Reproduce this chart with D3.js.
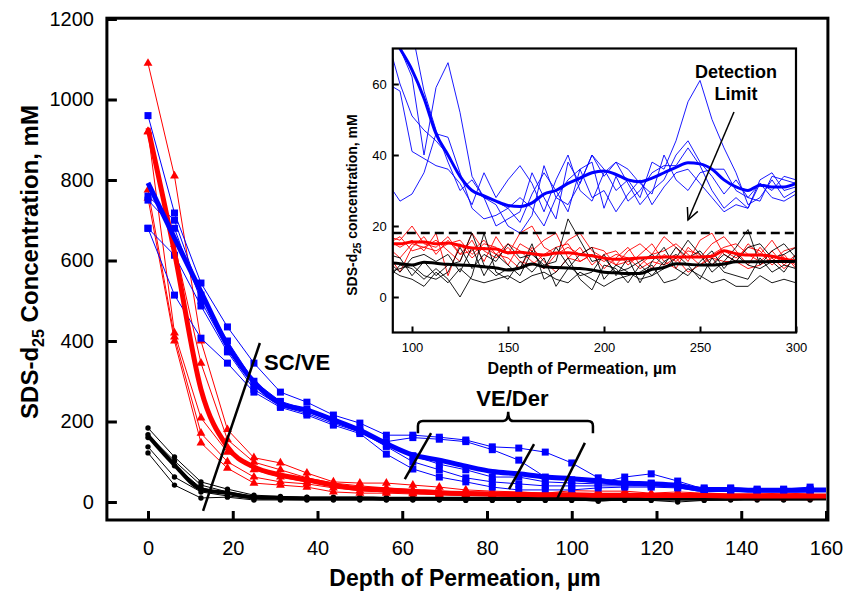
<!DOCTYPE html>
<html><head><meta charset="utf-8">
<script src="https://cdn.jsdelivr.net/npm/d3@7"></script>
<style>
body{margin:0;background:#fff}
svg{display:block}
text{font-family:"Liberation Sans",Arial,Helvetica,sans-serif;fill:#000}
</style>
</head><body><svg id="c" width="845" height="591"></svg>
<script>
// ---------------- MAIN PLOT DATA ----------------
const depth = [0,6.25,12.5,18.75,25,31.25,37.5,43.75,50,56.25,62.5,68.75,75,81.25,87.5,93.75,100,106.25,112.5,118.75,125,131.25,137.5,143.75,150,156.25];
const meanDepth = depth.concat([160]);
const xTicks = [0,20,40,60,80,100,120,140,160];
const yTicks = [0,200,400,600,800,1000,1200];

const blue1 = [960,718,544,435,345,273,248,216,196,166,166,161,154,137,134,124,97,60,47,45,42,35,35,32,32,37];
const blue2 = [760,700,514,400,300,250,230,205,180,150,160,156,150,130,104,62,55,47,62,70,52,32,33,30,30,32];
const blue3 = [750,680,500,378,290,241,225,200,176,142,115,94,80,62,62,50,47,45,42,47,40,30,30,28,28,30];
const blue4 = [680,613,487,373,280,238,220,195,174,138,100,80,60,50,45,40,40,40,40,40,37,27,28,26,26,27];
const blue5 = [680,514,407,345,273,235,216,191,170,119,82,62,50,37,30,30,30,35,37,37,35,25,27,25,25,25];
const blueMean = [793,656,522,390,298,245,228,204,178,145,117,104,89,76,70,62,58,53,47,45,41,31,31,29,29,30,30];

const red1 = [1090,810,400,180,110,97,72,50,47,47,42,37,30,27,25,22,28,27,27,22,25,22,20,20,22,20];
const red2 = [920,640,345,155,99,80,60,47,40,35,30,27,25,22,20,20,20,20,19,18,18,18,17,17,17,17];
const red3 = [920,420,209,124,80,62,50,42,35,30,25,22,20,18,18,17,17,16,16,16,15,15,15,15,15,15];
const red4 = [775,410,171,100,62,50,45,35,28,25,22,20,18,16,15,15,15,14,14,14,13,13,13,13,13,13];
const red5 = [755,400,147,84,47,42,37,25,22,22,20,18,16,15,14,13,13,12,12,12,12,11,11,11,11,11];
const redMean = [929,620,280,137,87,67,55,42,33,30,27,23,21,20,19,18,18,17,17,16,16,16,15,15,15,15,15];

const black1 = [184,112,50,32,17,14,12,12,12,11,11,10,10,10,10,11,10,10,10,12,10,10,12,11,12,12];
const black2 = [167,102,42,25,14,12,11,10,10,10,10,9,9,9,8,9,9,8,9,10,9,9,10,10,10,10];
const black3 = [160,90,35,20,12,10,9,9,8,8,8,8,8,8,7,8,8,7,8,8,8,8,8,9,9,9];
const black4 = [137,62,25,15,8,8,7,7,7,6,6,6,6,6,5,6,6,2,6,6,6,6,7,7,7,7];
const black5 = [122,42,10,12,5,5,5,5,5,5,5,5,4,4,4,4,4,4,4,4,0,4,5,5,5,5];
const blackMean = [165,92,32,22,12,10,9,9,9,8,8,8,8,8,8,8,8,7,8,8,8,8,8,9,9,9,9];

// ---------------- INSET DATA ----------------
const insetDepth = [87.5,93.75,100,106.25,112.5,118.75,125,131.25,137.5,143.75,150,156.25,162.5,168.75,175,181.25,187.5,193.75,200,206.25,212.5,218.75,225,231.25,237.5,243.75,250,256.25,262.5,268.75,275,281.25,287.5,293.75,300];
const insetXTicks = [100,150,200,250,300];
const insetYTicks = [0,20,40,60];
const detectionLimit = 18;

const iBlue1 = [80,70,62,40,59,66,52,34,28,20,22,24,35,28,22,38,32,40,36,30,33,28,38,36,44,55,61,50,42,35,26,28,33,28,30];
const iBlue2 = [60,58,41,39,37,36,32,26,35,28,33,37,32,24,33,40,30,27,35,38,32,26,30,33,40,44,38,34,29,33,28,32,30,34,33];
const iBlue3 = [32,27,29,35,46,45,35,25,22,23,25,21,29,35,30,24,36,38,25,34,27,30,35,37,37,42,37,30,25,28,25,32,28,27,29];
const iBlue4 = [72,60,51,47,44,40,34,30,28,27,25,28,25,20,28,33,36,28,30,24,29,33,26,31,35,36,32,28,24,26,25,33,35,30,31];
const iBlue5 = [90,85,75,58,47,38,30,33,28,26,20,18,23,37,28,26,32,40,34,38,36,32,29,40,33,30,35,36,36,30,28,27,34,33,32];
const iBlueMean = [76,70,64,56,46,40,34,30,28.5,27,25.8,25.5,26.5,29,30,32,33.5,35,35.5,34.5,33,32.5,33.5,35,36.5,37.8,37.5,36,33,31,30,31.5,31,31,32];

const iRed1 = [17,16,20,15,14,17,12,16,10,17,12,18,20,14,12,16,18,13,11,9,13,15,12,17,14,10,16,18,12,10,15,12,16,11,9];
const iRed2 = [15,17,13,14,13,15,16,12,15,14,9,15,13,16,18,11,14,9,12,13,9,12,15,10,8,14,11,15,17,13,9,14,10,13,14];
const iRed3 = [14,11,15,14,16,13,10,18,13,11,14,10,9,12,14,15,10,12,8,11,14,9,12,13,15,12,9,12,14,15,12,10,13,9,12];
const iRed4 = [12,7,14,17,12,16,12,13,16,12,15,13,10,8,12,14,12,14,13,9,10,11,8,12,10,13,12,9,13,11,14,13,9,12,8];
const iRed5 = [16,14,16,13,18,6,15,11,14,12,11,8,14,10,7,11,10,12,10,12,11,8,10,9,11,7,9,11,10,10,8,9,11,8,11];
const iRedMean = [15,15,15.5,15.5,15,15.2,14.5,13.8,13.6,13.5,12.5,12.6,12.2,11.8,12.4,12.5,12,11.6,11,10.6,10.8,11,11.1,11.3,11.3,11.3,11.3,11.5,13,12.2,11.8,11.8,11.5,10.7,10.1];

const iBlack1 = [7,8,9,6,5,7,14,8,12,10,15,11,12,9,10,22,16,10,11,7,8,10,12,9,14,11,13,9,12,10,14,15,11,12,14];
const iBlack2 = [5,9,8,5,8,5,0,6,18,7,5,10,7,11,3,8,12,14,5,9,7,5,6,8,11,16,12,7,10,14,19,9,13,15,11];
const iBlack3 = [10,7,11,12,10,12,7,14,6,12,9,6,13,8,14,9,6,7,12,6,11,4,10,14,8,6,10,13,8,12,9,8,10,7,12];
const iBlack4 = [12,11,6,10,6,9,10,18,9,6,8,8,15,5,7,11,5,2,9,8,4,9,6,10,12,9,5,11,7,6,5,11,7,9,8];
const iBlack5 = [8,6,5,3,7,4,8,5,4,5,6,4,6,7,5,4,7,5,3,5,6,7,9,4,5,8,6,4,5,3,3,6,4,5,4];
const iBlackMean = [9.6,9.4,9,9.8,9.5,9.2,9,8.9,8.5,8.2,7.6,8.2,9.3,8.5,8.3,8.2,8,7.6,7,6.8,6.6,6.6,7.8,8.3,9.4,9.2,9,9,9.3,9.9,9.9,9.9,10,10,10.1];

// ---------------- ANNOTATIONS (data units) ----------------
const scveLine = [[13,-22],[26.4,395]];
const derLines = [[[60.6,57],[66.8,171]],[[85.2,32],[91.1,144]],[[96.5,7],[103.1,147]]];
const bracket = {x0:63.7, x1:105, xm:85, yTop:201, yEnd:171, yNotch:224};
const arrowLine = [[267.7,52.1],[243.75,21.7]];

// ---------------- DRAW ----------------
const svg = d3.select("#c");
const BLUE="#0000ff", RED="#ff0000", BLACK="#000000";
const FONT = '"Liberation Sans",Arial,Helvetica,sans-serif';
const fmt = d3.format("d");

const x = d3.scaleLinear().domain([0,160]).range([148,826]);
const y = d3.scaleLinear().domain([0,1200]).range([502,19]);
const frameX = [-9.7,160.45], frameY = [-44.7,1202];

const main = svg.append("g");
const line = d3.line().x(d=>x(d[0])).y(d=>y(d[1]));
const smooth = d3.line().x(d=>x(d[0])).y(d=>y(d[1])).curve(d3.curveMonotoneX);
const pairs = (xs,vs)=>vs.map((v,i)=>[xs[i],v]);

function drawSeries(g, data, color, marker){
  g.append("path").attr("d",line(pairs(depth,data))).attr("fill","none")
   .attr("stroke",color).attr("stroke-width",1).attr("stroke-linejoin","round");
  const pts = pairs(depth,data);
  if(marker==="square"){
    g.selectAll(null).data(pts).join("rect")
     .attr("x",d=>x(d[0])-3.5).attr("y",d=>y(d[1])-3.5).attr("width",7).attr("height",7).attr("fill",color);
  } else if(marker==="triangle"){
    g.selectAll(null).data(pts).join("path")
     .attr("d",d3.symbol(d3.symbolTriangle,34)).attr("transform",d=>`translate(${x(d[0])},${y(d[1])})`).attr("fill",color);
  } else {
    g.selectAll(null).data(pts).join("circle")
     .attr("cx",d=>x(d[0])).attr("cy",d=>y(d[1])).attr("r",2.7).attr("fill",color);
  }
}
const gData = main.append("g");
[black1,black2,black3,black4,black5].forEach(s=>drawSeries(gData,s,BLACK,"circle"));
[red1,red2,red3,red4,red5].forEach(s=>drawSeries(gData,s,RED,"triangle"));
[blue1,blue2,blue3,blue4,blue5].forEach(s=>drawSeries(gData,s,BLUE,"square"));
gData.append("path").attr("d",smooth(pairs(meanDepth,blackMean))).attr("fill","none").attr("stroke",BLACK).attr("stroke-width",4).attr("stroke-linejoin","round");
gData.append("path").attr("d",smooth(pairs(meanDepth,redMean))).attr("fill","none").attr("stroke",RED).attr("stroke-width",5).attr("stroke-linejoin","round");
gData.append("path").attr("d",smooth(pairs(meanDepth,blueMean))).attr("fill","none").attr("stroke",BLUE).attr("stroke-width",5).attr("stroke-linejoin","round");

// annotations main
main.append("path").attr("d",line(scveLine)).attr("stroke","#000").attr("stroke-width",2.5);
derLines.forEach(l=>main.append("path").attr("d",line(l)).attr("stroke","#000").attr("stroke-width",2.5));
{
  const b=bracket, X0=x(b.x0), X1=x(b.x1), XM=x(b.xm), YT=y(b.yTop), YE=y(b.yEnd), YN=y(b.yNotch), r=5;
  main.append("path").attr("d",
    `M${X0},${YE} L${X0},${YT+r} Q${X0},${YT} ${X0+r},${YT} L${XM-r},${YT} Q${XM},${YT} ${XM},${YN} Q${XM},${YT} ${XM+r},${YT} L${X1-r},${YT} Q${X1},${YT} ${X1},${YT+r} L${X1},${YE}`)
   .attr("fill","none").attr("stroke","#000").attr("stroke-width",2.5);
}
main.append("text").attr("x",x(27.4)).attr("y",y(328)).attr("font-size",22).attr("font-weight","bold").text("SC/VE");
main.append("text").attr("x",x(86)).attr("y",y(238)).attr("font-size",22).attr("font-weight","bold").attr("text-anchor","middle").text("VE/Der");

// frame + axes
main.append("rect").attr("x",x(frameX[0])).attr("y",y(frameY[1])).attr("width",x(frameX[1])-x(frameX[0]))
  .attr("height",y(frameY[0])-y(frameY[1])).attr("fill","none").attr("stroke","#000").attr("stroke-width",3);
const yAx = main.append("g").attr("transform",`translate(${x(frameX[0])},0)`)
  .call(d3.axisLeft(y).tickValues(yTicks).tickFormat(fmt).tickSize(-10).tickPadding(13));
const xAx = main.append("g").attr("transform",`translate(0,${y(frameY[0])})`)
  .call(d3.axisBottom(x).tickValues(xTicks).tickFormat(fmt).tickSize(-9).tickPadding(21));
[yAx,xAx].forEach(a=>{
  a.select(".domain").remove();
  a.selectAll("line").attr("stroke","#000").attr("stroke-width",3);
  a.selectAll("text").attr("font-size",20).attr("font-family",FONT).attr("fill","#000");
});
main.append("text").attr("x",465).attr("y",586).attr("text-anchor","middle").attr("font-size",23).attr("font-weight","bold")
  .text("Depth of Permeation, \u00b5m");
{
  const t = main.append("text").attr("transform","translate(38,262) rotate(-90)").attr("text-anchor","middle")
    .attr("font-size",24).attr("font-weight","bold");
  t.append("tspan").text("SDS-d");
  t.append("tspan").attr("font-size",16).attr("dy",6).text("25");
  t.append("tspan").attr("dy",-6).text(" Concentration, mM");
}

// ---------------- INSET ----------------
const xi = d3.scaleLinear().domain([100,300]).range([412,796]);
const yi = d3.scaleLinear().domain([0,60]).range([297,84]);
const iFrameX=[90,300], iFrameY=[-10,70];
const ins = svg.append("g");
const fx0=xi(iFrameX[0]), fx1=xi(iFrameX[1]), fy0=yi(iFrameY[1]), fy1=yi(iFrameY[0]);
ins.append("rect").attr("x",fx0).attr("y",fy0).attr("width",fx1-fx0).attr("height",fy1-fy0).attr("fill","#fff");
svg.append("defs").append("clipPath").attr("id","ic").append("rect")
  .attr("x",fx0).attr("y",fy0).attr("width",fx1-fx0).attr("height",fy1-fy0);
const ig = ins.append("g").attr("clip-path","url(#ic)");
const iline = d3.line().x(d=>xi(d[0])).y(d=>yi(d[1]));
const ismooth = d3.line().x(d=>xi(d[0])).y(d=>yi(d[1])).curve(d3.curveMonotoneX);
const thin = (s,c)=>ig.append("path").attr("d",iline(pairs(insetDepth,s))).attr("fill","none").attr("stroke",c).attr("stroke-width",0.9).attr("stroke-linejoin","miter");
[iBlue1,iBlue2,iBlue3,iBlue4,iBlue5].forEach(s=>thin(s,BLUE));
[iRed1,iRed2,iRed3,iRed4,iRed5].forEach(s=>thin(s,RED));
[iBlack1,iBlack2,iBlack3,iBlack4,iBlack5].forEach(s=>thin(s,BLACK));
ig.append("path").attr("d",ismooth(pairs(insetDepth,iBlueMean))).attr("fill","none").attr("stroke",BLUE).attr("stroke-width",3);
ig.append("path").attr("d",ismooth(pairs(insetDepth,iRedMean))).attr("fill","none").attr("stroke",RED).attr("stroke-width",3);
ig.append("path").attr("d",ismooth(pairs(insetDepth,iBlackMean))).attr("fill","none").attr("stroke",BLACK).attr("stroke-width",3);
ig.append("line").attr("x1",fx0).attr("x2",fx1).attr("y1",yi(detectionLimit)).attr("y2",yi(detectionLimit))
  .attr("stroke","#000").attr("stroke-width",2.5).attr("stroke-dasharray","9,5");
// arrow
{
  const [p0,p1]=arrowLine.map(p=>[xi(p[0]),yi(p[1])]);
  ins.append("line").attr("x1",p0[0]).attr("y1",p0[1]).attr("x2",p1[0]).attr("y2",p1[1]).attr("stroke","#000").attr("stroke-width",1.5);
  const ang=Math.atan2(p1[1]-p0[1],p1[0]-p0[0]), L=13, spread=0.45;
  const a1=[p1[0]-L*Math.cos(ang-spread),p1[1]-L*Math.sin(ang-spread)];
  const a2=[p1[0]-L*Math.cos(ang+spread),p1[1]-L*Math.sin(ang+spread)];
  ins.append("path").attr("d",`M${a1[0]},${a1[1]} L${p1[0]},${p1[1]} L${a2[0]},${a2[1]}`).attr("fill","none").attr("stroke","#000").attr("stroke-width",1.5);
}
ins.append("text").attr("x",xi(268.75)).attr("y",yi(61.7)).attr("text-anchor","middle").attr("font-size",18).attr("font-weight","bold").text("Detection");
ins.append("text").attr("x",xi(268.75)).attr("y",yi(55.5)).attr("text-anchor","middle").attr("font-size",18).attr("font-weight","bold").text("Limit");
ins.append("rect").attr("x",fx0).attr("y",fy0).attr("width",fx1-fx0).attr("height",fy1-fy0).attr("fill","none").attr("stroke","#000").attr("stroke-width",2.2);
const iyAx = ins.append("g").attr("transform",`translate(${fx0},0)`).call(d3.axisLeft(yi).tickValues(insetYTicks).tickFormat(fmt).tickSize(-6).tickPadding(6));
const ixAx = ins.append("g").attr("transform",`translate(0,${fy1})`).call(d3.axisBottom(xi).tickValues(insetXTicks).tickFormat(fmt).tickSize(-6).tickPadding(10));
[iyAx,ixAx].forEach(a=>{
  a.select(".domain").remove();
  a.selectAll("line").attr("stroke","#000").attr("stroke-width",2);
  a.selectAll("text").attr("font-size",13).attr("font-family",FONT).attr("fill","#000");
});
ins.append("text").attr("x",582).attr("y",374).attr("text-anchor","middle").attr("font-size",16).attr("font-weight","bold")
  .text("Depth of Permeation, \u00b5m");
{
  const t = ins.append("text").attr("transform","translate(357,205) rotate(-90)").attr("text-anchor","middle")
    .attr("font-size",14).attr("font-weight","bold");
  t.append("tspan").text("SDS-d");
  t.append("tspan").attr("font-size",10).attr("dy",4).text("25");
  t.append("tspan").attr("dy",-4).text(" concentration, mM");
}
</script>
</body></html>
